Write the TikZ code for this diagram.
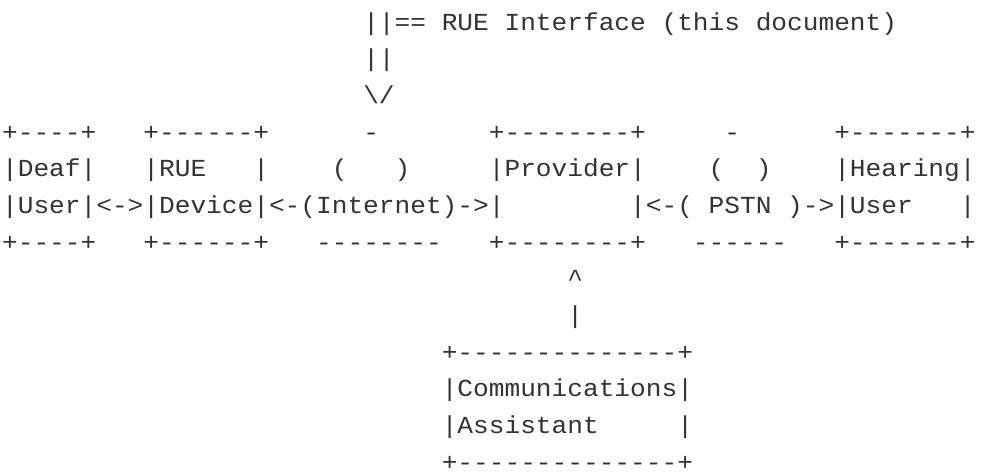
\documentclass[tikz,border=0pt]{standalone}
\usepackage{fontspec}
\setmonofont[FakeStretch=1.068]{Liberation Mono}
\definecolor{ink}{HTML}{333333}
\newcommand{\cw}{15.70}
\newcommand{\lh}{36.67}
\tikzset{
  asc/.style={anchor=base west, inner sep=0pt, outer sep=0pt, text=ink,
    font=\ttfamily\fontsize{24.5pt}{28pt}\selectfont},
}
% \at{col}{line}
\newcommand{\at}[2]{({2.15pt+\cw pt*#1},{-(30pt+\lh pt*(#2-1))})}
\begin{document}
\begin{tikzpicture}
\fill[white] (0,0) rectangle (981pt,-475pt);
\useasboundingbox (0,0) rectangle (981pt,-475pt);
% line 1
\node[asc] (ifbar) at \at{23}{1} {||==};
\node[asc] (ifrue) at \at{28}{1} {RUE};
\node[asc] (ifint) at \at{32}{1} {Interface};
\node[asc] (ifthis) at \at{42}{1} {(this};
\node[asc] (ifdoc) at \at{48}{1} {document)};
% line 2-3
\node[asc] (ifshaft) at \at{23}{2} {||};
\node[asc] (ifhead) at \at{23}{3} {\textbackslash/};
% line 4
\node[asc] (deaftop) at \at{0}{4} {+----+};
\node[asc] (ruetop) at \at{9}{4} {+------+};
\node[asc] (inettop) at \at{23}{4} {-};
\node[asc] (provtop) at \at{31}{4} {+--------+};
\node[asc] (pstntop) at \at{46}{4} {-};
\node[asc] (heartop) at \at{53}{4} {+-------+};
% line 5
\node[asc] (deafa) at \at{0}{5} {|Deaf|};
\node[asc] (ruea) at \at{9}{5} {|RUE};
\node[asc] (rueb) at \at{16}{5} {|};
\node[asc] (ineta) at \at{21}{5} {(};
\node[asc] (inetb) at \at{25}{5} {)};
\node[asc] (prova) at \at{31}{5} {|Provider|};
\node[asc] (pstna) at \at{45}{5} {(};
\node[asc] (pstnb) at \at{48}{5} {)};
\node[asc] (heara) at \at{53}{5} {|Hearing|};
% line 6
\node[asc] (userline) at \at{0}{6} {|User|<->|Device|<-(Internet)->|};
\node[asc] (pstnl) at \at{40}{6} {|<-(};
\node[asc] (pstnm) at \at{45}{6} {PSTN};
\node[asc] (pstnr) at \at{50}{6} {)->|User};
\node[asc] (hearend) at \at{61}{6} {|};
% line 7
\node[asc] (deafbot) at \at{0}{7} {+----+};
\node[asc] (ruebot) at \at{9}{7} {+------+};
\node[asc] (inetbot) at \at{20}{7} {--------};
\node[asc] (provbot) at \at{31}{7} {+--------+};
\node[asc] (pstnbot) at \at{44}{7} {------};
\node[asc] (hearbot) at \at{53}{7} {+-------+};
% line 8-9
\node[asc] (cahead) at \at{36}{8} {\textasciicircum};
\node[asc] (cashaft) at \at{36}{9} {|};
% line 10-13
\node[asc] (catop) at \at{28}{10} {+--------------+};
\node[asc] (caa) at \at{28}{11} {|Communications|};
\node[asc] (cab) at \at{28}{12} {|Assistant};
\node[asc] (cac) at \at{43}{12} {|};
\node[asc] (cabot) at \at{28}{13} {+--------------+};
\end{tikzpicture}
\end{document}
